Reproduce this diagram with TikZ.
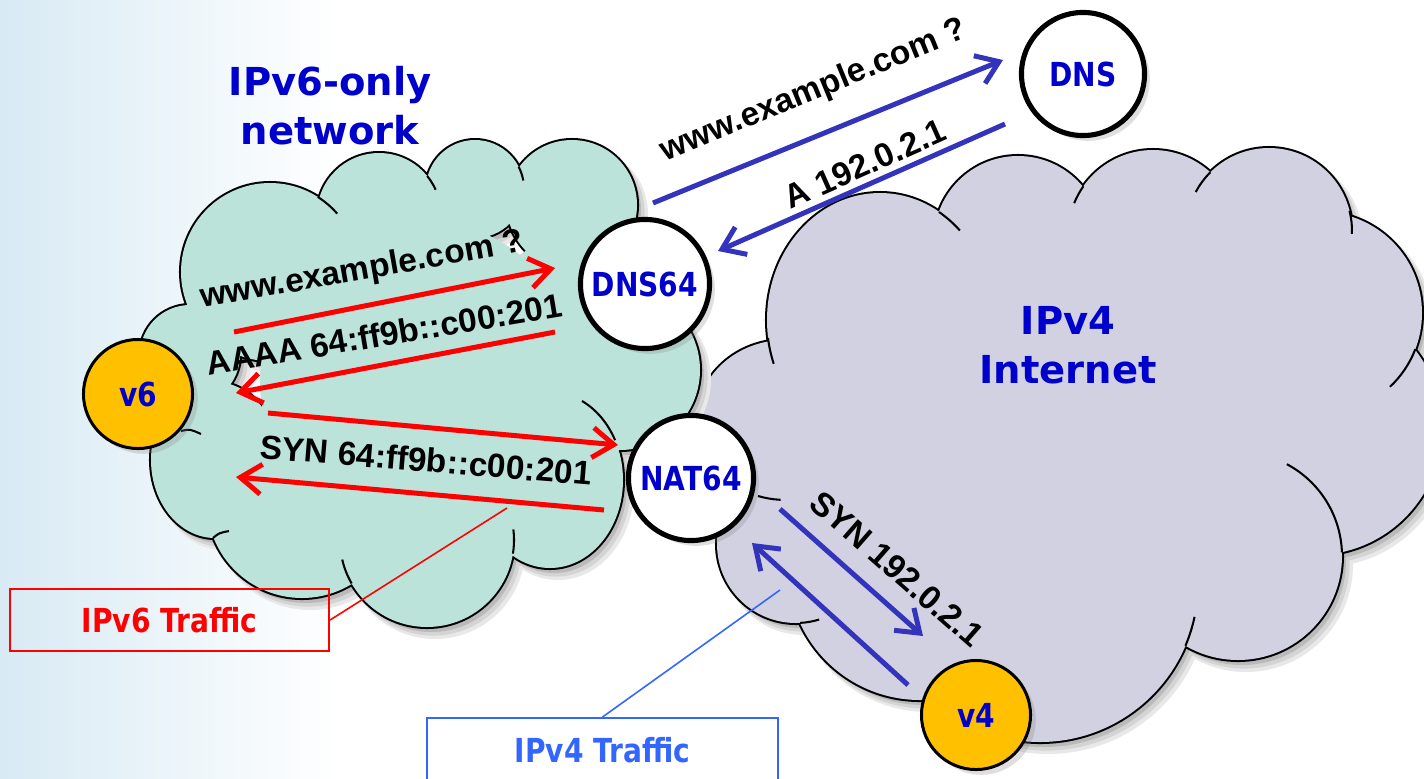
\documentclass[tikz,border=0pt]{standalone}
\usepackage{fontspec}
\setmainfont{Liberation Sans}
\newfontfamily\dvs{DejaVu Sans}
\newfontfamily\dvn[FakeStretch=0.85]{DejaVu Sans}
\newfontfamily\arl{Liberation Sans}
\usetikzlibrary{arrows.meta,shadows}
\definecolor{tealfill}{RGB}{187,227,217}
\definecolor{lavfill}{RGB}{209,209,225}
\definecolor{lblue}{RGB}{0,0,204}
\definecolor{arrblue}{RGB}{51,51,187}
\definecolor{arrred}{RGB}{255,0,0}
\definecolor{vfourblue}{RGB}{51,102,255}
\definecolor{orng}{RGB}{255,192,0}
\definecolor{bgblue}{RGB}{216,234,244}
\newcommand\sixpuffs{(270,272) circle[radius=89] (190,355) circle[radius=50] (379,215) circle[radius=62] (475,189) circle[radius=49] (572,205) circle[radius=65] (620,370) circle[radius=80] (550,480) ellipse[x radius=73,y radius=88] (427,540) circle[radius=87] (302,503) circle[radius=95] (215,460) ellipse[x radius=64,y radius=78]}
\newcommand\sixcore{(420,380) circle[radius=160] (560,300) circle[radius=60]}
\newcommand\fourpuffs{(880,320) ellipse[x radius=113,y radius=127] (785,420) ellipse[x radius=88,y radius=80] (796,544) circle[radius=79] (920,568) circle[radius=132] (1040,584) circle[radius=158] (1238,556) circle[radius=104] (1315,428) circle[radius=127] (1321,313) circle[radius=101] (1269,231) circle[radius=83] (1153,235) circle[radius=85] (1018,240) circle[radius=84]}
\newcommand\fourcore{(1070,420) ellipse[x radius=240,y radius=190]}
\begin{document}
\begin{tikzpicture}[x=0.01cm,y=-0.01cm,
  outl/.style={draw=black,line width=1.15pt},
  stub/.style={draw=black,line width=0.58pt},
  shA/.style={fill=black!9,draw=black!9,line width=1.7pt},
  shB/.style={fill=black!17,draw=black!17,line width=0.9pt},
  shC/.style={fill=black!27},
  lbl/.style={font=\dvn\bfseries\fontsize{9.4}{11}\selectfont,text=lblue},
  bigcirc/.style={circle,draw=black,line width=1.45pt,fill=white,inner sep=0pt,lbl,
     drop shadow={opacity=0.25,shadow xshift=1.5pt,shadow yshift=-1.5pt}},
  hostcirc/.style={circle,draw=black,line width=0.85pt,fill=orng,inner sep=0pt,lbl,minimum size=1.09cm,
     drop shadow={opacity=0.25,shadow xshift=1.5pt,shadow yshift=-1.5pt}},
  tip/.style={-{Straight Barb[length=6pt,width=8.5pt]}},
  redarr/.style={draw=arrred,line width=1.42pt,tip},
  bluearr/.style={draw=arrblue,line width=1.42pt,tip},
  msg/.style={font=\arl\bfseries\fontsize{9.5}{11}\selectfont,inner sep=0pt},
  ttl/.style={font=\dvs\bfseries\fontsize{10.95}{13.94}\selectfont,text=lblue,align=center,inner sep=0pt},
  callout/.style={line width=0.57pt,font=\dvn\bfseries\fontsize{9.4}{11}\selectfont,inner sep=0pt},
]
\clip (0,0) rectangle (1424,778);
\useasboundingbox (0,0) rectangle (1424,778);
\fill[white] (0,0) rectangle (1424,778);
\shade[left color=bgblue,right color=white] (0,0) rectangle (340,778);

% ---------- IPv4 cloud ----------
\path[shA,shift={(8,9)}] \fourpuffs \fourcore;
\path[shB,shift={(6,7)}] \fourpuffs \fourcore;
\path[shC,shift={(4,5)}] \fourpuffs \fourcore;
\path[outl] \fourpuffs;
\fill[lavfill] \fourpuffs \fourcore;
\draw[stub] (939,212) arc[start angle=-58.5,end angle=-45,x radius=113,y radius=127];
\draw[stub] (768,338) arc[start angle=172,end angle=160,x radius=113,y radius=127];
\draw[stub] ([shift={(-145:85)}]1153,235) arc[start angle=-145,end angle=-158,radius=85];
\draw[stub] ([shift={(-135:83)}]1269,231) arc[start angle=-135,end angle=-152,radius=83];
\draw[stub] ([shift={(-14:83)}]1269,231) arc[start angle=-14,end angle=2,radius=83];
\draw[stub] ([shift={(21:101)}]1321,313) arc[start angle=21,end angle=47,radius=101];
\draw[stub] ([shift={(-2:104)}]1238,556) arc[start angle=-2,end angle=-62,radius=104];
\draw[stub] ([shift={(23:158)}]1040,584) arc[start angle=23,end angle=12,radius=158];
\draw[stub] ([shift={(87:79)}]796,544) arc[start angle=87,end angle=73,radius=79];
\draw[stub] (758,496) arc[start angle=108,end angle=93,x radius=88,y radius=80];

% ---------- IPv6 cloud ----------
\path[shA,shift={(8,9)}] \sixpuffs \sixcore;
\path[shB,shift={(6,7)}] \sixpuffs \sixcore;
\path[shC,shift={(4,5)}] \sixpuffs \sixcore;
\path[outl] \sixpuffs;
\fill[tealfill] \sixpuffs \sixcore;
\draw[stub] ([shift={(-57.5:89)}]270,272) arc[start angle=-57.5,end angle=-41,radius=89];
\draw[stub] ([shift={(-39:62)}]379,215) arc[start angle=-39,end angle=-24,radius=62];
\draw[stub] ([shift={(-27:49)}]475,189) arc[start angle=-27,end angle=-10,radius=49];
\draw[stub] (582,401) arc[start angle=-64,end angle=-27,x radius=73,y radius=88];
\draw[stub] ([shift={(9:87)}]427,540) arc[start angle=9,end angle=-7,radius=87];
\draw[stub] ([shift={(150:87)}]427,540) arc[start angle=150,end angle=167,radius=87];
\draw[stub] (213,538) .. controls (219,533) .. (229,531);
\draw[stub] (181,431) .. controls (190,429) .. (201,434);

% ---------- titles ----------
\node[ttl] (t6) at (330,106) {IPv6-only\\network};
\node[ttl] (t4) at (1068,345) {IPv4\\Internet};

% ---------- servers and hosts ----------
\node[bigcirc,minimum size=1.23cm] (dns) at (1083,74) {DNS};
\node[bigcirc,minimum size=1.29cm] (dns64) at (645,284) {DNS64};
\node[bigcirc,minimum size=1.25cm] (nat64) at (691,478) {NAT64};
\node[hostcirc] (v6) at (138,394) {v6};
\node[hostcirc] (v4) at (976,715) {v4};

% ---------- IPv6 messages ----------
\coordinate (r1s) at (234,332); \coordinate (r1e) at (555,268);
\coordinate (r2s) at (555,332); \coordinate (r2e) at (236,393);
\coordinate (r3s) at (268,413); \coordinate (r3e) at (618,445);
\coordinate (r4s) at (604,510); \coordinate (r4e) at (236,477);
\draw[redarr] (r1s) -- (r1e);
\draw[redarr] (r2s) -- (r2e);
\draw[redarr] (r3s) -- (r3e);
\draw[redarr] (r4s) -- (r4e);
\node[msg,rotate=10] (m1) at (362,271) {www.example.com ?};
\node[msg,rotate=9.5] (m2) at (384,334) {AAAA 64:ff9b::c00:201};
\node[msg,rotate=-4.7] (m3) at (426,460) {SYN 64:ff9b::c00:201};

% ---------- IPv4 messages ----------
\coordinate (b1s) at (653,203); \coordinate (b1e) at (1003,60);
\coordinate (b2s) at (1005,124); \coordinate (b2e) at (718,251);
\coordinate (b3s) at (780,509); \coordinate (b3e) at (923,636);
\coordinate (b4s) at (908,685); \coordinate (b4e) at (752,543);
\draw[bluearr] (b1s) -- (b1e);
\draw[bluearr] (b2s) -- (b2e);
\draw[bluearr] (b3s) -- (b3e);
\draw[bluearr] (b4s) -- (b4e);
\node[msg,rotate=22.3] (m4) at (814,91) {www.example.com ?};
\node[msg,rotate=24] (m5) at (865,164) {A 192.0.2.1};
\node[msg,rotate=-41.2] (m6) at (897,569) {SYN 192.0.2.1};

% ---------- callouts ----------
\node[callout,draw=arrred,text=arrred,minimum width=3.19cm,minimum height=0.61cm] (v6box) at (169.5,620) {IPv6 Traffic};
\coordinate (c6) at (507,508);
\draw[arrred,line width=0.45pt] (v6box.east) -- (c6);
\node[callout,draw=vfourblue,text=vfourblue,minimum width=3.51cm,minimum height=0.64cm,anchor=north] (v4box) at (602.5,717) {IPv4 Traffic};
\coordinate (c4) at (780,590);
\draw[vfourblue,line width=0.45pt] (v4box.north) -- (c4);
\end{tikzpicture}
\end{document}
